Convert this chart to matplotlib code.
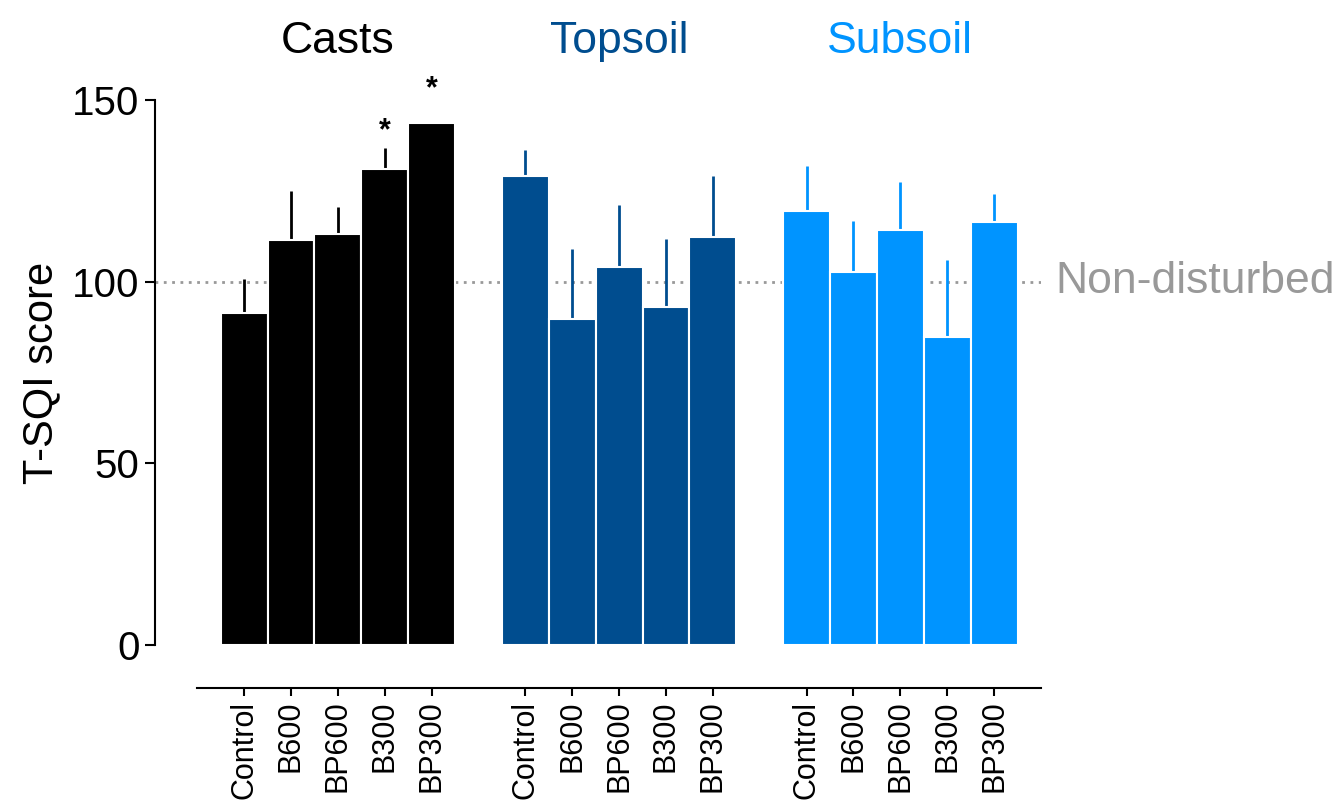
import matplotlib
matplotlib.use("Agg")
import matplotlib.pyplot as plt
import numpy as np

plt.rcParams['font.family'] = ['Liberation Sans', 'DejaVu Sans']

# T-SQI scores per treatment, with upper error
treatments = ['Control', 'B600', 'BP600', 'B300', 'BP300']
groups = ['Casts', 'Topsoil', 'Subsoil']
colors = ['#000000', '#004d8f', '#0094ff']

casts = [91.4, 111.5, 113.1, 131.0, 143.7]
casts_err = [9.3, 13.5, 7.5, 5.8, 0.0]
topsoil = [129.1, 89.7, 104.0, 93.0, 112.3]
topsoil_err = [7.2, 19.3, 17.1, 18.7, 16.8]
subsoil = [119.5, 102.7, 114.2, 84.8, 116.4]
subsoil_err = [12.4, 14.0, 13.2, 21.2, 7.7]

# significance stars (bar index within casts, height)
star_idx = [3, 4]
star_y = [141.5, 153.0]

values = [casts, topsoil, subsoil]
errors = [casts_err, topsoil_err, subsoil_err]

fig = plt.figure(figsize=(13.4, 8.11), dpi=100)
ax = fig.add_axes([155/1340, 166/811, 886/1340, 545/811])

# spines first: moving a spine resets the tick labels
ax.spines['top'].set_visible(False)
ax.spines['right'].set_visible(False)
ax.spines['left'].set_linewidth(1.5)
ax.spines['bottom'].set_linewidth(1.5)
ax.spines['bottom'].set_position(('outward', 31))
ax.spines['bottom'].set_bounds(-1, 17)

ticks = []
ticklabels = []
for g in range(3):
    x = np.arange(5) + g * 6
    ax.errorbar(x, values[g], yerr=[np.zeros(5), errors[g]], fmt='none',
                ecolor=colors[g], elinewidth=2.0, capsize=0, zorder=2)
    ax.bar(x, values[g], width=1.0, color=colors[g], edgecolor='white',
           linewidth=1.5, zorder=3)
    ax.text(x.mean(), 166, groups[g], color=colors[g], fontsize=32,
            ha='center', va='center', clip_on=False)
    ticks += list(x)
    ticklabels += treatments

for i, y in zip(star_idx, star_y):
    ax.text(i, y, '*', fontsize=22, fontweight='bold', ha='center',
            va='center', clip_on=False)

# reference level of the undisturbed soil
ax.plot([-1.9, 17], [100, 100], ls=(0, (1, 2)), color='#999999', lw=2, zorder=1)
ax.text(17.3, 100, 'Non-disturbed', color='#999999', fontsize=32,
        va='center', ha='left', clip_on=False)

ax.set_xlim(-1.9, 17)
ax.set_ylim(0, 150)
ax.set_yticks([0, 50, 100, 150])
ax.set_xticks(ticks)
ax.set_xticklabels(ticklabels, rotation=90, fontsize=22)
ax.tick_params(axis='y', labelsize=29, width=1.5, length=7, pad=4)
ax.tick_params(axis='x', width=1.5, length=6, pad=3)
ax.set_ylabel('T-SQI score', fontsize=30, labelpad=8)

fig.savefig('out.png', dpi=100)
